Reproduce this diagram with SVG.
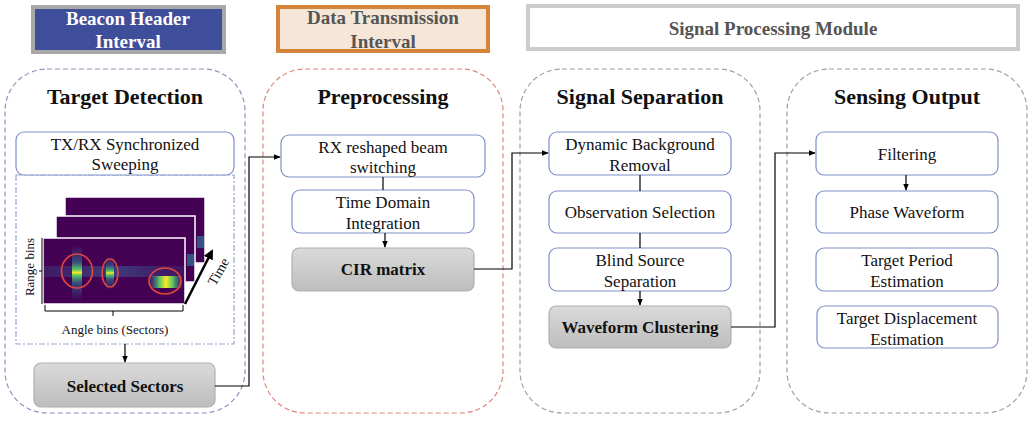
<svg xmlns="http://www.w3.org/2000/svg" width="1034" height="421" viewBox="0 0 1034 421">
<style>
text{font-family:"Liberation Serif","Times New Roman",serif;fill:#111;}
.hd{font-family:"Liberation Serif",serif;font-size:19px;font-weight:bold;text-anchor:middle;}
.ttl{font-family:"Liberation Serif",serif;font-size:22px;font-weight:bold;text-anchor:middle;}
.bx{fill:#fff;stroke:#7F8FC8;stroke-width:1.2;}
.gb{fill:url(#gray);stroke:#B0B0B0;stroke-width:1.2;}
.bt{font-family:"Liberation Serif",serif;font-size:17px;text-anchor:middle;}
.gt{font-family:"Liberation Serif",serif;font-size:17px;font-weight:bold;text-anchor:middle;}
.sm{font-family:"Liberation Serif",serif;font-size:13px;text-anchor:middle;}
.con{fill:none;stroke:#000;stroke-width:1.2;}
.panel{fill:none;stroke-width:1.2;stroke-dasharray:5 3;}
.frame{fill:#440154;stroke:#fff;stroke-width:1.5;}
</style>
<defs>
<linearGradient id="gray" x1="0" y1="0" x2="0" y2="1">
<stop offset="0" stop-color="#DADADA"/><stop offset="1" stop-color="#BDBDBD"/>
</linearGradient>
<linearGradient id="vbar" x1="0" y1="0" x2="0" y2="1">
<stop offset="0" stop-color="#31688e" stop-opacity="0"/>
<stop offset="0.3" stop-color="#31688e" stop-opacity="0.7"/>
<stop offset="0.45" stop-color="#5ec962"/>
<stop offset="0.5" stop-color="#fde725"/>
<stop offset="0.55" stop-color="#5ec962"/>
<stop offset="0.7" stop-color="#31688e" stop-opacity="0.7"/>
<stop offset="1" stop-color="#31688e" stop-opacity="0"/>
</linearGradient>
<linearGradient id="hbar" x1="0" y1="0" x2="1" y2="0">
<stop offset="0" stop-color="#31688e" stop-opacity="0.3"/>
<stop offset="0.3" stop-color="#5ec962"/>
<stop offset="0.5" stop-color="#fde725"/>
<stop offset="0.7" stop-color="#5ec962"/>
<stop offset="1" stop-color="#31688e" stop-opacity="0.3"/>
</linearGradient>
<linearGradient id="band" x1="0" y1="0" x2="1" y2="0">
<stop offset="0" stop-color="#3b528b" stop-opacity="0.3"/>
<stop offset="0.5" stop-color="#3b528b" stop-opacity="0.7"/>
<stop offset="1" stop-color="#3b528b" stop-opacity="0.2"/>
</linearGradient>
<marker id="arr" viewBox="0 0 10 10" refX="9" refY="5" markerWidth="6" markerHeight="6" orient="auto">
<path d="M0,1 L10,5 L0,9 z" fill="#000"/>
</marker>
<marker id="arrBig" viewBox="0 0 10 10" refX="8" refY="5" markerWidth="4" markerHeight="4" orient="auto">
<path d="M0,0 L10,5 L0,10 z" fill="#000"/>
</marker>
</defs>

<!-- Header bars -->
<g id="beacon-header">
<rect x="33" y="7" width="191" height="45" fill="#3F4E9A" stroke="#A8A8A8" stroke-width="4"/>
<text class="hd" x="128" y="25" style="fill:#fff">Beacon Header</text>
<text class="hd" x="128" y="48" style="fill:#fff">Interval</text>
</g>
<g id="data-transmission">
<rect x="278" y="7" width="210" height="44" fill="#F6E6D8" stroke="#D4853A" stroke-width="4"/>
<text class="hd" x="383" y="24" style="fill:#555">Data Transmission</text>
<text class="hd" x="383" y="48" style="fill:#555">Interval</text>
</g>
<g id="signal-processing-module">
<rect x="528" y="6" width="490" height="43" fill="#fff" stroke="#CCCCCC" stroke-width="4"/>
<text class="hd" x="773" y="35" style="fill:#555">Signal Processing Module</text>
</g>

<!-- Panels -->
<g id="panel-target-detection">
<rect class="panel" x="5" y="69" width="240" height="344" rx="42" stroke="#8A94BE"/>
<text class="ttl" x="125" y="104">Target Detection</text>
</g>
<g id="panel-preprocessing">
<rect class="panel" x="263" y="69" width="240" height="344" rx="42" stroke="#E0857A"/>
<text class="ttl" x="383" y="104">Preprocessing</text>
</g>
<g id="panel-signal-separation">
<rect class="panel" x="520" y="69" width="240" height="344" rx="42" stroke="#A0A0A0"/>
<text class="ttl" x="640" y="104">Signal Separation</text>
</g>
<g id="panel-sensing-output">
<rect class="panel" x="787" y="69" width="240" height="344" rx="42" stroke="#A0A0A0"/>
<text class="ttl" x="907" y="104">Sensing Output</text>
</g>

<!-- Target detection contents -->
<g id="heatmap-area">
<rect x="16" y="175" width="218" height="169" fill="none" stroke="#9AA5CC" stroke-width="1.2" stroke-dasharray="6 2 2 2"/>
<rect class="frame" x="65" y="197" width="140" height="66"/>
<rect x="197" y="236" width="7" height="12" fill="#31688e" opacity="0.8"/>
<rect class="frame" x="56" y="216" width="139" height="66"/>
<rect x="187" y="254" width="7" height="12" fill="#31688e" opacity="0.8"/>
<rect class="frame" x="43" y="238" width="142" height="66"/>
<rect x="44" y="266" width="140" height="11" fill="url(#band)"/>
<rect x="72" y="245" width="10" height="55" fill="url(#vbar)"/>
<rect x="106" y="256" width="8" height="34" fill="url(#vbar)"/>
<rect x="150" y="276" width="32" height="12" fill="url(#hbar)"/>
<ellipse cx="77" cy="271" rx="15.5" ry="17" fill="none" stroke="#E0463C" stroke-width="1.7"/>
<ellipse cx="110" cy="273" rx="8" ry="14" fill="none" stroke="#E0463C" stroke-width="1.7"/>
<ellipse cx="165" cy="281" rx="16" ry="13" fill="none" stroke="#E0463C" stroke-width="1.7"/>
<line x1="185" y1="304" x2="212" y2="251" stroke="#000" stroke-width="2.5" marker-end="url(#arrBig)"/>
<text class="sm" x="219" y="276" style="font-size:14px" transform="rotate(-60 219 272)">Time</text>
<path d="M42,238 V304 M42,271 H39" fill="none" stroke="#000" stroke-width="1"/>
<text class="sm" x="30" y="271" transform="rotate(-90 30 267)">Range bins</text>
<path d="M45,305 V311 H183 V305 M113,311 V316" fill="none" stroke="#000" stroke-width="1"/>
<text class="sm" x="115" y="334">Angle bins (Sectors)</text>
</g>
<g id="node-txrx">
<rect class="bx" x="16" y="132" width="218" height="43" rx="8"/>
<text class="bt" x="125" y="150">TX/RX Synchronized</text>
<text class="bt" x="125" y="170">Sweeping</text>
</g>
<g id="node-selected-sectors">
<rect class="gb" x="34" y="363" width="181" height="44" rx="7"/>
<text class="gt" x="125" y="392">Selected Sectors</text>
</g>

<!-- Preprocessing -->
<g id="node-rx-reshaped">
<rect class="bx" x="281" y="135" width="204" height="42" rx="8"/>
<text class="bt" x="383" y="153">RX reshaped beam</text>
<text class="bt" x="383" y="173">switching</text>
</g>
<g id="node-time-domain">
<rect class="bx" x="292" y="190" width="182" height="43" rx="8"/>
<text class="bt" x="383" y="208">Time Domain</text>
<text class="bt" x="383" y="229">Integration</text>
</g>
<g id="node-cir">
<rect class="gb" x="292" y="248" width="182" height="43" rx="7"/>
<text class="gt" x="383" y="275">CIR matrix</text>
</g>

<!-- Signal separation -->
<g id="node-dbr">
<rect class="bx" x="549" y="132" width="182" height="43" rx="8"/>
<text class="bt" x="640" y="150">Dynamic Background</text>
<text class="bt" x="640" y="171">Removal</text>
</g>
<g id="node-obs">
<rect class="bx" x="549" y="191" width="182" height="42" rx="8"/>
<text class="bt" x="640" y="218">Observation Selection</text>
</g>
<g id="node-bss">
<rect class="bx" x="549" y="248" width="182" height="43" rx="8"/>
<text class="bt" x="640" y="266">Blind Source</text>
<text class="bt" x="640" y="287">Separation</text>
</g>
<g id="node-wfc">
<rect class="gb" x="549" y="306" width="182" height="42" rx="7"/>
<text class="gt" x="640" y="333">Waveform Clustering</text>
</g>

<!-- Sensing output -->
<g id="node-filtering">
<rect class="bx" x="816" y="132" width="182" height="43" rx="8"/>
<text class="bt" x="907" y="160">Filtering</text>
</g>
<g id="node-phase">
<rect class="bx" x="816" y="191" width="182" height="42" rx="8"/>
<text class="bt" x="907" y="218">Phase Waveform</text>
</g>
<g id="node-period">
<rect class="bx" x="816" y="248" width="182" height="43" rx="8"/>
<text class="bt" x="907" y="266">Target Period</text>
<text class="bt" x="907" y="287">Estimation</text>
</g>
<g id="node-displacement">
<rect class="bx" x="817" y="306" width="181" height="42" rx="8"/>
<text class="bt" x="907" y="324">Target Displacement</text>
<text class="bt" x="907" y="345">Estimation</text>
</g>

<!-- Connectors -->
<g id="connectors">
<line class="con" x1="125" y1="344" x2="125" y2="362" marker-end="url(#arr)"/>
<polyline class="con" points="215,386 249,386 249,157 280,157" marker-end="url(#arr)"/>
<line class="con" x1="383" y1="177" x2="383" y2="190" stroke-width="1.6"/>
<line class="con" x1="385" y1="233" x2="385" y2="247" marker-end="url(#arr)"/>
<polyline class="con" points="474,269 512,269 512,153 548,153" marker-end="url(#arr)"/>
<line class="con" x1="640" y1="175" x2="640" y2="191" stroke-width="1.6"/>
<line class="con" x1="640" y1="233" x2="640" y2="248" stroke-width="1.6"/>
<line class="con" x1="640" y1="291" x2="640" y2="305" marker-end="url(#arr)"/>
<polyline class="con" points="731,327 775,327 775,153 815,153" marker-end="url(#arr)"/>
<line class="con" x1="906" y1="175" x2="906" y2="190" marker-end="url(#arr)"/>
</g>
</svg>
